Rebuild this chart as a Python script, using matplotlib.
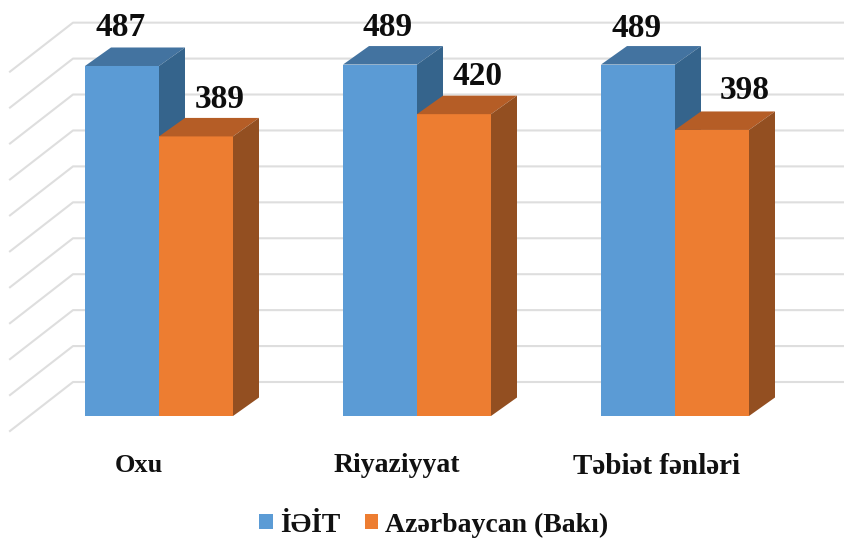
import matplotlib
matplotlib.use('Agg')
import matplotlib.pyplot as plt
from matplotlib.patches import Polygon

categories = ['Oxu', 'Riyaziyyat', 'Təbiət fənləri']
iteit = [487, 489, 489]
baki = [389, 420, 398]
series_names = ['İƏİT', 'Azərbaycan (Bakı)']
grid_values = list(range(0, 501, 50))

# picture scale
W, H = 844, 539
PX_X = 258.0          # px per category
PX_Y = 0.7187         # px per value unit
X0 = 159.0            # px of first category
Y0 = 416.0            # px of value 0


def px_x(n):
    return n / PX_X


def px_y(n):
    return n / PX_Y


def bar3d(ax, x, w, v, front, top, side):
    dx, dy = px_x(26), px_y(18.5)
    ax.add_patch(Polygon([(x, 0), (x + w, 0), (x + w, v), (x, v)], fc=front, ec='none', zorder=3))
    ax.add_patch(Polygon([(x, v), (x + w, v), (x + w + dx, v + dy), (x + dx, v + dy)], fc=top, ec='none', zorder=3))
    ax.add_patch(Polygon([(x + w, 0), (x + w + dx, dy), (x + w + dx, v + dy), (x + w, v)], fc=side, ec='none', zorder=3))


plt.rcParams['font.family'] = ['Liberation Serif', 'DejaVu Serif']
plt.rcParams['font.weight'] = 'bold'

fig = plt.figure(figsize=(W / 100, H / 100), dpi=100)
ax = fig.add_axes([0, 0, 1, 1])
ax.set_xlim(-X0 / PX_X, (W - X0) / PX_X)
ax.set_ylim(-(H - Y0) / PX_Y, Y0 / PX_Y)
ax.axis('off')

# back wall and floor lines
for v in grid_values:
    xs = [px_x(10 - X0), px_x(73 - X0), px_x(W - X0)]
    ys = [v - px_y(15), v + px_y(34), v + px_y(34)]
    ax.plot(xs, ys, color='#dedede', lw=1.5, zorder=1)

bw = px_x(74)
for i in range(len(categories)):
    bar3d(ax, i - bw, bw, iteit[i], '#5b9bd5', '#4373a0', '#35648c')
    bar3d(ax, i, bw, baki[i], '#ed7d31', '#b55d26', '#934f21')

# hand placed labels, same as in the picture
blue_shift = [-1, 8, -1]
orange_shift = [24, 23, 33]
blue_up = [40, 39, 38]
orange_up = [39, 40, 41]
for i in range(len(categories)):
    ax.text(i - bw / 2 + px_x(blue_shift[i]), iteit[i] + px_y(blue_up[i] - 2), str(iteit[i]),
            ha='center', va='center', fontsize=24, color='#0d0d0d', zorder=4)
    ax.text(i + bw / 2 + px_x(orange_shift[i]), baki[i] + px_y(orange_up[i] - 2), str(baki[i]),
            ha='center', va='center', fontsize=24, color='#0d0d0d', zorder=4)

cat_shift = [-20, -20, -19]
cat_sizes = [19, 20, 21]
for i, name in enumerate(categories):
    ax.text(i + px_x(cat_shift[i]), -px_y(49 if i < 2 else 50), name,
            ha='center', va='center', fontsize=cat_sizes[i], color='#111111')

h1 = plt.Rectangle((0, 0), 1, 1, fc='#5b9bd5')
h2 = plt.Rectangle((0, 0), 1, 1, fc='#ed7d31')
ax.legend([h1, h2], series_names, loc='center', bbox_to_anchor=(434 / W, 1 - 525 / H), ncol=2,
          frameon=False, fontsize=20, handlelength=0.48, handleheight=0.48, handletextpad=0.25,
          columnspacing=0.9, borderpad=0, labelcolor='#111111')

fig.savefig('out.png', dpi=100)
